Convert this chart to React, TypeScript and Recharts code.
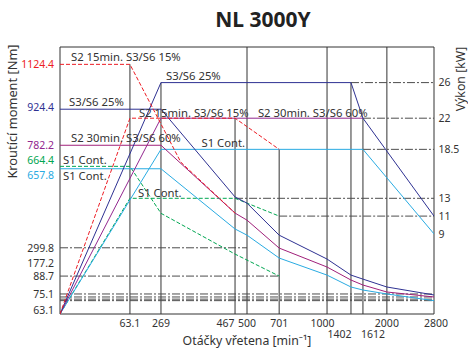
import { Line, LineChart, ReferenceArea, ReferenceDot, ReferenceLine, XAxis, YAxis } from "recharts";

const FONT = "'Noto Sans', sans-serif";
const INK = "#333";
const GUIDE = "#4d4d4d";
const RED = "#ed1c24";
const NAVY = "#2e3192";
const PURPLE = "#92278f";
const MAGENTA = "#a0207a";
const CYAN = "#29abe2";
const GREEN = "#00a651";

// tick values
const RPM_TICKS = [63.1, 269, 467, 500, 701, 1000, 1402, 1612, 2000, 2800];
const TORQUE_TICKS = [1124.4, 924.4, 782.2, 664.4, 657.8, 299.8, 177.2, 88.7, 75.1, 63.1];
const POWER_TICKS = [26, 22, 18.5, 13, 11, 9];

// torque curves, Nm against spindle speed
const S2_15_T_RPM = [0, 63.1, 322, 467];
const S2_15_T_NM = [1124.4, 1124.4, 688, 457];
const S3_25_T_RPM = [0, 269, 467, 500, 701, 1000, 1402, 1612, 2000, 2800];
const S3_25_T_NM = [924.4, 924.4, 530, 502, 357, 209, 95.4, 86.4, 80.4, 74.5];
const S2_30_T_RPM = [0, 269, 467, 500, 701, 1000, 1402, 1612, 2000, 2800];
const S2_30_T_NM = [782.2, 782.2, 457, 425, 297.5, 150, 85.7, 81.9, 76.6, 73.3];
const S1_T_RPM = [0, 269, 467, 500, 701, 1000, 1402, 1612, 2000, 2800];
const S1_T_NM = [657.8, 657.8, 385, 357, 217, 95.4, 80.4, 78.1, 75.1, 71.1];
const S1B_T_RPM = [0, 63.1, 269, 467, 701];
const S1B_T_NM = [664.4, 664.4, 456, 249, 88.7];

// power curves, kW against spindle speed
const S2_15_P_RPM = [0, 63.1, 467, 701];
const S2_15_P_KW = [0, 22, 22, 18.5];
const S3_25_P_RPM = [0, 269, 1402, 1612, 2800];
const S3_25_P_KW = [0, 26, 26, 22, 11];
const S2_30_P_RPM = [0, 269, 1612];
const S2_30_P_KW = [0, 22, 22];
const S1_P_RPM = [0, 269, 1612, 2800];
const S1_P_KW = [0, 18.5, 18.5, 9];
const S1B_P_RPM = [0, 63.1, 467, 701];
const S1B_P_KW = [0, 13, 13, 11];

// dash-dot guide lines
const TORQUE_GUIDES = [299.8, 88.7, 75.1, 73.3, 72.0, 71.1];
const TORQUE_GUIDE_END = [500, 701, 2800, 2800, 2800, 2800];
const POWER_GUIDES = [26, 22, 18.5, 13, 11];
const POWER_GUIDE_START = [1402, 1612, 1612, 467, 701];

// vertical drop lines from curve corners
const DROP_T_RPM = [63.1];
const DROP_T_NM = [1124.4];
const DROP_P_RPM = [269, 467, 701, 1402, 1612];
const DROP_P_KW = [26, 22, 18.5, 26, 22];
const FULL_RPM = [500, 1000, 2000];

// the drawing uses broken axes: every labelled value has its own place along the axis
const X_BREAKS = [0, 63.1, 269, 467, 500, 701, 1000, 1402, 1612, 2000, 2800];
const X_FRACS = [0, 0.187, 0.27, 0.468, 0.5, 0.586, 0.714, 0.778, 0.81, 0.874, 1];
const T_BREAKS = [63.1, 75.1, 88.7, 177.2, 299.8, 657.8, 664.4, 782.2, 924.4, 1124.4, 1200];
const T_FRACS = [0, 0.075, 0.142, 0.191, 0.248, 0.544, 0.553, 0.632, 0.767, 0.935, 1];

function warp(v: number, from: number[], to: number[]) {
  for (let i = 1; i < from.length; i++) {
    if (v <= from[i] || i === from.length - 1) {
      const t = (v - from[i - 1]) / (from[i] - from[i - 1]);
      return to[i - 1] + t * (to[i] - to[i - 1]);
    }
  }
  return to[to.length - 1];
}
const rx = (rpm: number) => warp(rpm, X_BREAKS, X_FRACS);
const tq = (nm: number) => warp(nm, T_BREAKS, T_FRACS);

const torquePts = (rpm: number[], nm: number[]) => rpm.map((r, i) => ({ x: rx(r), y: tq(nm[i]) }));
const powerPts = (rpm: number[], kw: number[]) => rpm.map((r, i) => ({ x: rx(r), y: kw[i] }));

const SERIES = [
  { id: "s1bP", axis: "kw", data: powerPts(S1B_P_RPM, S1B_P_KW), color: GREEN, dash: "4 2" },
  { id: "s1bT", axis: "nm", data: torquePts(S1B_T_RPM, S1B_T_NM), color: GREEN, dash: "4 2" },
  { id: "s1P", axis: "kw", data: powerPts(S1_P_RPM, S1_P_KW), color: CYAN },
  { id: "s1T", axis: "nm", data: torquePts(S1_T_RPM, S1_T_NM), color: CYAN },
  { id: "s230P", axis: "kw", data: powerPts(S2_30_P_RPM, S2_30_P_KW), color: PURPLE },
  { id: "s230T", axis: "nm", data: torquePts(S2_30_T_RPM, S2_30_T_NM), color: MAGENTA },
  { id: "s325P", axis: "kw", data: powerPts(S3_25_P_RPM, S3_25_P_KW), color: NAVY },
  { id: "s325T", axis: "nm", data: torquePts(S3_25_T_RPM, S3_25_T_NM), color: NAVY },
  { id: "s215P", axis: "kw", data: powerPts(S2_15_P_RPM, S2_15_P_KW), color: RED, dash: "4 2" },
  { id: "s215T", axis: "nm", data: torquePts(S2_15_T_RPM, S2_15_T_NM), color: RED, dash: "4 2" },
];

// curve captions: anchored on a curve point, nudged in pixels
const CAPTIONS = [
  { text: "S2 15min. S3/S6 15%", axis: "nm", rpm: 0, v: 1124.4, dx: 11, dy: -7.3, end: false },
  { text: "S3/S6 25%", axis: "kw", rpm: 269, v: 26, dx: 5, dy: -7, end: false },
  { text: "S3/S6 25%", axis: "nm", rpm: 0, v: 924.4, dx: 9, dy: -6.8, end: false },
  { text: "S2 15min. S3/S6 15%", axis: "kw", rpm: 63.1, v: 22, dx: 9, dy: -5.3, end: false },
  { text: "S2 30min. S3/S6 60%", axis: "nm", rpm: 0, v: 782.2, dx: 11, dy: -6.8, end: false },
  { text: "S2 30min. S3/S6 60%", axis: "kw", rpm: 1612, v: 22, dx: 4.7, dy: -5.3, end: true },
  { text: "S1 Cont.", axis: "nm", rpm: 0, v: 664.4, dx: 3, dy: -6.3, end: false },
  { text: "S1 Cont.", axis: "nm", rpm: 0, v: 657.8, dx: 3, dy: 7.3, end: false },
  { text: "S1 Cont.", axis: "kw", rpm: 701, v: 18.5, dx: -34, dy: -6, end: true },
  { text: "S1 Cont.", axis: "kw", rpm: 63.1, v: 13, dx: 8, dy: -5.5, end: false },
];

const TORQUE_COLOR: Record<string, string> = { "1124.4": RED, "924.4": NAVY, "782.2": PURPLE, "664.4": GREEN, "657.8": CYAN };
const TORQUE_NUDGE: Record<string, number> = { "924.4": -2, "664.4": -6, "657.8": 6.5, "63.1": -3.5 };
const RPM_NUDGE: Record<string, number> = { "467": -9.5, "1000": -4.5, "1402": -11.5, "1612": 10, "2800": 2 };
const RPM_SECOND_ROW = [1402, 1612];

const DASH_DOT = "8 2 2 2";

function RpmTick(props: any) {
  const { x, y, index } = props;
  const rpm = RPM_TICKS[index];
  const low = RPM_SECOND_ROW.includes(rpm);
  return (
    <text x={x + (RPM_NUDGE[String(rpm)] ?? 0)} y={y + (low ? 24 : 12.5)} textAnchor="middle" fontFamily={FONT} fontSize={10.5} fill={INK}>
      {rpm}
    </text>
  );
}

function TorqueTick(props: any) {
  const { x, y, index } = props;
  const v = TORQUE_TICKS[index];
  return (
    <text x={x} y={y + (TORQUE_NUDGE[String(v)] ?? 0)} dy="0.355em" textAnchor="end" fontFamily={FONT} fontSize={10.5} fill={TORQUE_COLOR[String(v)] ?? INK}>
      {v}
    </text>
  );
}

function PowerTick(props: any) {
  const { x, y, index } = props;
  return (
    <text x={x} y={y} dy="0.355em" textAnchor="start" fontFamily={FONT} fontSize={10.5} fill={INK}>
      {POWER_TICKS[index]}
    </text>
  );
}

export default function App() {
  return (
    <div style={{ position: "absolute", left: 0, top: 0, width: 468, height: 351, background: "#fff", fontFamily: FONT }}>
      <div style={{ position: "absolute", left: 163, top: 5, width: 200, textAlign: "center", fontSize: 21, fontWeight: 700, lineHeight: "28px", color: "#222" }}>
        NL 3000Y
      </div>
      <LineChart width={468} height={351} margin={{ top: 47, right: 0, bottom: 0, left: 0 }}>
        <XAxis
          xAxisId="rpm"
          type="number"
          dataKey="x"
          domain={[0, 1]}
          ticks={RPM_TICKS.map(rx)}
          interval={0}
          height={37}
          axisLine={false}
          tickLine={false}
          tickSize={0}
          tickMargin={0}
          tick={<RpmTick />}
          allowDataOverflow
          label={{ value: "Otáčky vřetena [min⁻¹]", position: "insideBottom", offset: 6, fill: INK, fontSize: 12.3, fontFamily: FONT }}
        />
        <YAxis
          yAxisId="nm"
          type="number"
          domain={[0, 1]}
          ticks={TORQUE_TICKS.map(tq)}
          interval={0}
          width={60}
          axisLine={false}
          tickLine={false}
          tickSize={0}
          tickMargin={6}
          tick={<TorqueTick />}
          allowDataOverflow
          label={{ value: "Kroutící moment [Nm]", angle: -90, position: "center", dx: -18, dy: -69, fill: INK, fontSize: 12.8, fontFamily: FONT }}
        />
        <YAxis
          yAxisId="kw"
          orientation="right"
          type="number"
          domain={[0, 30]}
          ticks={POWER_TICKS}
          interval={0}
          width={34}
          axisLine={false}
          tickLine={false}
          tickSize={0}
          tickMargin={4.5}
          tick={<PowerTick />}
          allowDataOverflow
          label={{ value: "Výkon [kW]", angle: -90, position: "center", dx: 9.5, dy: -101.5, fill: INK, fontSize: 12.3, fontFamily: FONT }}
        />

        {FULL_RPM.map((r) => (
          <ReferenceLine key={"f" + r} xAxisId="rpm" yAxisId="nm" x={rx(r)} stroke={INK} strokeWidth={1} />
        ))}
        {DROP_T_RPM.map((r, i) => (
          <ReferenceLine key={"dt" + r} xAxisId="rpm" yAxisId="nm" segment={[{ x: rx(r), y: 0 }, { x: rx(r), y: tq(DROP_T_NM[i]) }]} stroke={INK} strokeWidth={1} />
        ))}
        {DROP_P_RPM.map((r, i) => (
          <ReferenceLine key={"dp" + r} xAxisId="rpm" yAxisId="kw" segment={[{ x: rx(r), y: 0 }, { x: rx(r), y: DROP_P_KW[i] }]} stroke={INK} strokeWidth={1} />
        ))}
        {TORQUE_GUIDES.map((v, i) => (
          <ReferenceLine key={"tg" + v} xAxisId="rpm" yAxisId="nm" segment={[{ x: 0, y: tq(v) }, { x: rx(TORQUE_GUIDE_END[i]), y: tq(v) }]} stroke={GUIDE} strokeDasharray={DASH_DOT} strokeWidth={1} />
        ))}
        {POWER_GUIDES.map((v, i) => (
          <ReferenceLine key={"pg" + v} xAxisId="rpm" yAxisId="kw" segment={[{ x: rx(POWER_GUIDE_START[i]), y: v }, { x: 1, y: v }]} stroke={GUIDE} strokeDasharray={DASH_DOT} strokeWidth={1} />
        ))}
        <ReferenceArea xAxisId="rpm" yAxisId="nm" x1={0} x2={1} y1={0} y2={1} fill="none" stroke={INK} strokeWidth={1} />

        {SERIES.map((s) => (
          <Line
            key={s.id}
            xAxisId="rpm"
            yAxisId={s.axis}
            data={s.data}
            dataKey="y"
            type="linear"
            stroke={s.color}
            strokeWidth={1}
            strokeDasharray={s.dash}
            dot={false}
            activeDot={false}
            isAnimationActive={false}
          />
        ))}

        {CAPTIONS.map((c, i) => (
          <ReferenceDot
            key={"c" + i}
            xAxisId="rpm"
            yAxisId={c.axis}
            x={rx(c.rpm)}
            y={c.axis === "nm" ? tq(c.v) : c.v}
            r={1}
            shape={(p: any) => (
              <text x={p.cx + c.dx} y={p.cy + c.dy} dy="0.355em" textAnchor={c.end ? "end" : "start"} fontFamily={FONT} fontSize={11.3} fill={INK}>
                {c.text}
              </text>
            )}
          />
        ))}
      </LineChart>
    </div>
  );
}
